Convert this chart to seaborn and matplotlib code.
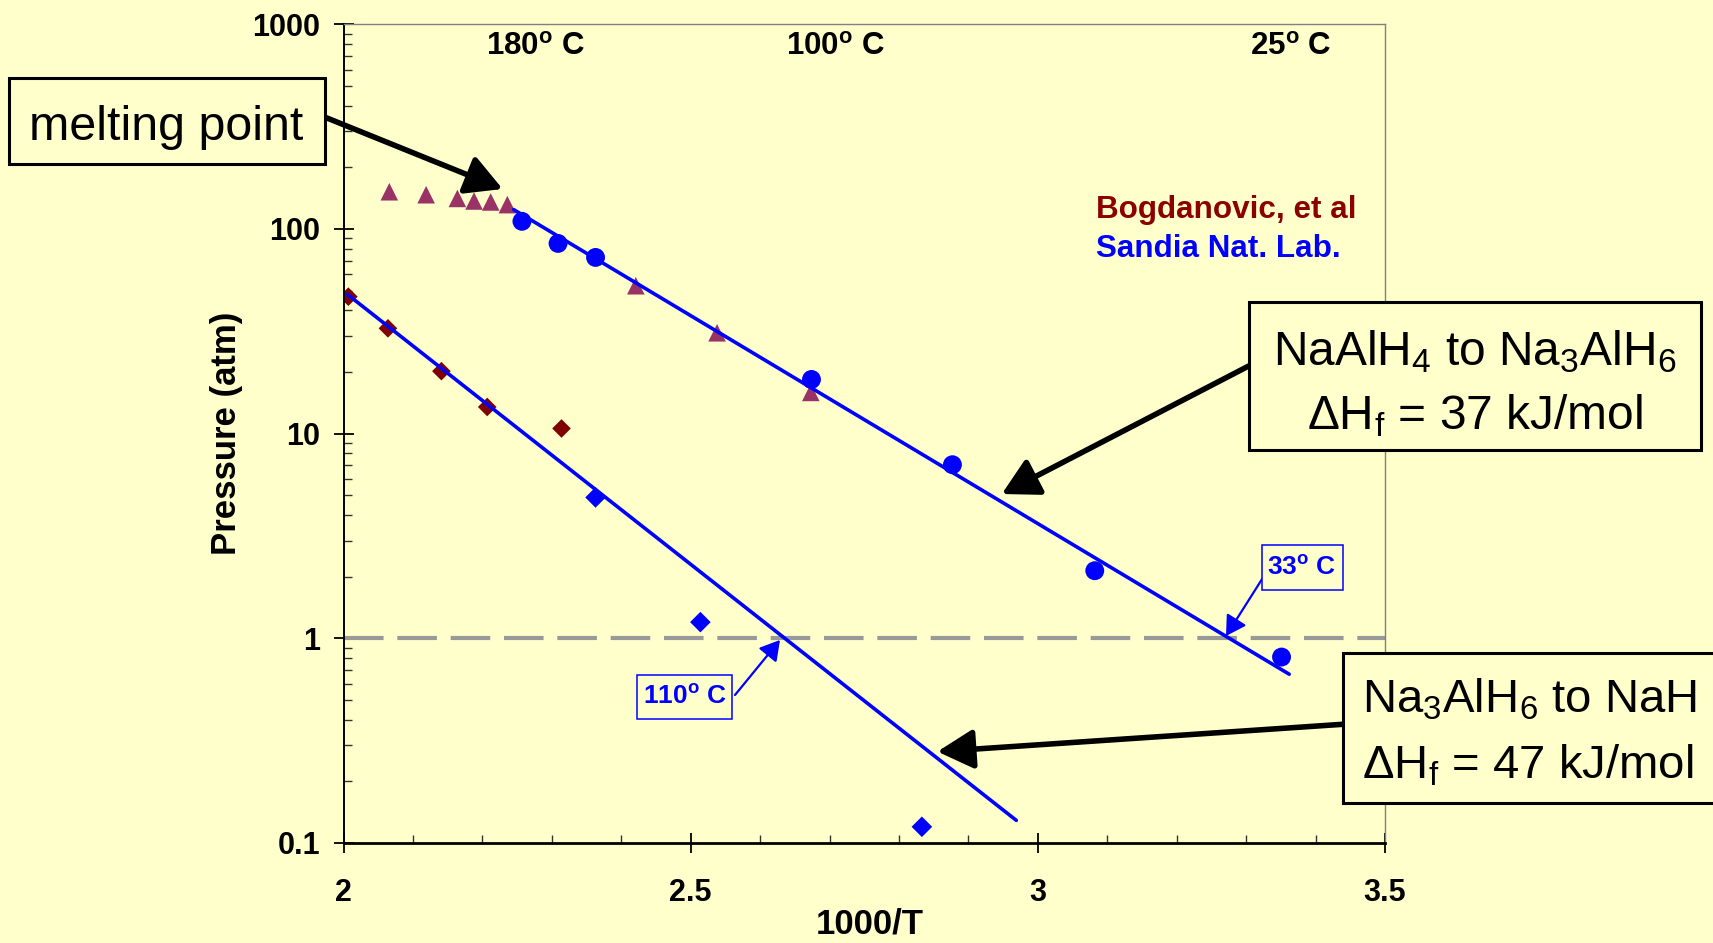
import matplotlib
matplotlib.use("Agg")
import numpy as np
import pandas as pd
import seaborn as sns
import matplotlib.pyplot as plt
from matplotlib.patches import Rectangle
from matplotlib.ticker import FixedLocator, NullFormatter, LogLocator, MultipleLocator

# ---------------- data ----------------
bog_tri_x = [2.066, 2.119, 2.164, 2.188, 2.212, 2.236, 2.421, 2.538, 2.673]
bog_tri_p = [152, 147, 141, 137, 135.5, 131.5, 52.8, 31.1, 15.9]
sandia_circ_x = [2.257, 2.309, 2.363, 2.674, 2.877, 3.082, 3.351]
sandia_circ_p = [109, 85, 72.6, 18.4, 7.05, 2.14, 0.81]
bog_dia_x = [2.007, 2.064, 2.141, 2.207, 2.314]
bog_dia_p = [46.7, 32.7, 20.2, 13.5, 10.6]
sandia_dia_x = [2.363, 2.514, 2.833]
sandia_dia_p = [4.88, 1.2, 0.12]
fit1_x = [2.245, 3.362]
fit1_p = [124.4, 0.668]
fit2_x = [2.006, 2.969]
fit2_p = [47.8, 0.129]

x_ticks = [2, 2.5, 3, 3.5]
x_tick_labels = ["2", "2.5", "3", "3.5"]
y_ticks = [0.1, 1, 10, 100, 1000]
y_tick_labels = ["0.1", "1", "10", "100", "1000"]
temp_labels = ["180$^{\\mathbf{o}}$ C", "100$^{\\mathbf{o}}$ C", "25$^{\\mathbf{o}}$ C"]

# ---------------- style ----------------
BG = "#FFFFCC"
W, H = 1713, 943
sns.set_style("ticks")
plt.rcParams["font.family"] = ["Liberation Sans", "DejaVu Sans"]
plt.rcParams["mathtext.fontset"] = "custom"
plt.rcParams["mathtext.rm"] = "Liberation Sans"
plt.rcParams["mathtext.bf"] = "Liberation Sans:bold"
plt.rcParams["mathtext.it"] = "Liberation Sans:italic"
plt.rcParams["mathtext.default"] = "regular"
for k in ["text.color", "axes.labelcolor", "xtick.color", "ytick.color"]:
    plt.rcParams[k] = "black"

fig = plt.figure(figsize=(W / 100, H / 100), dpi=100, facecolor=BG)
L, R, T, B = 343.5, 1385, 24.3, 843
ax = fig.add_axes([L / W, 1 - B / H, (R - L) / W, (B - T) / H])
ax.set_facecolor(BG)

def fx(px):
    return px / W

def fy(py):
    return 1 - py / H

# reference line at 1 atm
ax.axhline(1, color="#999999", lw=3.0, dashes=(9.5, 3.3), zorder=1)

# markers
sns.scatterplot(x=bog_tri_x, y=bog_tri_p, marker="^", s=160, color="#993366",
                edgecolor="none", ax=ax, zorder=3)
sns.scatterplot(x=sandia_circ_x, y=sandia_circ_p, marker="o", s=185, color="#0000FF",
                edgecolor="none", ax=ax, zorder=3)
sns.scatterplot(x=bog_dia_x, y=bog_dia_p, marker="D", s=90, color="#800000",
                edgecolor="none", ax=ax, zorder=2)
sns.scatterplot(x=sandia_dia_x, y=sandia_dia_p, marker="D", s=110, color="#0000FF",
                edgecolor="none", ax=ax, zorder=2)

# fit lines
fits = pd.DataFrame({"x": fit1_x + fit2_x, "p": fit1_p + fit2_p,
                     "fit": ["a", "a", "b", "b"]})
sns.lineplot(data=fits, x="x", y="p", units="fit", estimator=None, color="#0000FF",
             lw=2.6, ax=ax, zorder=4, legend=False)

ax.set_yscale("log")
ax.set_xlim(2, 3.5)
ax.set_ylim(0.1, 1000)

# ticks
ax.xaxis.set_major_locator(FixedLocator(x_ticks))
ax.set_xticklabels(x_tick_labels, fontsize=22, fontweight="bold")
ax.xaxis.set_minor_locator(MultipleLocator(0.1))
ax.yaxis.set_major_locator(FixedLocator(y_ticks))
ax.set_yticklabels(y_tick_labels, fontsize=22, fontweight="bold")
ax.yaxis.set_minor_locator(LogLocator(base=10, subs=np.arange(2, 10), numticks=20))
ax.yaxis.set_minor_formatter(NullFormatter())
ax.tick_params(axis="both", which="major", direction="inout", length=14, width=1.3,
               color="black")
ax.tick_params(axis="x", which="major", pad=18)
ax.tick_params(axis="y", which="major", pad=10)
ax.tick_params(axis="both", which="minor", direction="in", length=6, width=1.0,
               color="#333333")

for side in ["top", "right"]:
    ax.spines[side].set_visible(True)
    ax.spines[side].set_color("#808080")
    ax.spines[side].set_linewidth(1.0)
ax.spines["left"].set_color("black")
ax.spines["left"].set_linewidth(1.4)
ax.spines["bottom"].set_color("black")
ax.spines["bottom"].set_linewidth(2.0)

ax.set_xlabel("1000/T", fontsize=25, fontweight="bold")
ax.xaxis.set_label_coords(0.505, -0.1185)
ax.xaxis.label.set_va("bottom")
ax.set_ylabel("Pressure (atm)", fontsize=25, fontweight="bold")
ax.yaxis.set_label_coords(-0.112, 0.5)
ax.yaxis.label.set_va("center")

# temperature labels on top
for xa, t in zip([0.184, 0.4727, 0.910], temp_labels):
    ax.text(xa, 0.972, t, transform=ax.transAxes, ha="center", va="center",
            fontsize=22.5, fontweight="bold")

# legend-like text
fig.text(fx(1095.8), fy(209.8), "Bogdanovic, et al", color="#8B0000",
         fontsize=22.6, fontweight="bold", ha="left", va="center")
fig.text(fx(1095.8), fy(249), "Sandia Nat. Lab.", color="#0000FF",
         fontsize=22.6, fontweight="bold", ha="left", va="center")

# ---------- boxes ----------
def box(x0, y0, x1, y1, ec="black", lw=2.2):
    r = Rectangle((fx(x0), fy(y1)), fx(x1) - fx(x0), fy(y0) - fy(y1),
                  transform=fig.transFigure, facecolor=BG, edgecolor=ec,
                  lw=lw, zorder=5, clip_on=False)
    fig.add_artist(r)

def arrow(p0, p1, color="black", lw=4, hl=0.55, hw=0.3, ms=40):
    ax.annotate("", xy=(fx(p1[0]), fy(p1[1])), xycoords="figure fraction",
                xytext=(fx(p0[0]), fy(p0[1])), textcoords="figure fraction",
                arrowprops=dict(arrowstyle=f"-|>,head_length={hl},head_width={hw}",
                                lw=lw, color=color, mutation_scale=ms,
                                shrinkA=0, shrinkB=0), zorder=6)

# melting point
box(8.7, 77.6, 324.5, 163.9)
fig.text(fx(166.6), fy(127), "melting point", fontsize=34.8, ha="center", va="center",
         zorder=6)
arrow((324.5, 117), (502.6, 189))

# NaAlH4 -> Na3AlH6
box(1248.7, 301.5, 1701, 450)
fig.text(fx(1474.9), fy(352), "NaAlH$_4$ to Na$_3$AlH$_6$", fontsize=34.5,
         ha="center", va="center", zorder=6)
fig.text(fx(1474.9), fy(416), "ΔH$_f$ = 37 kJ/mol", fontsize=34.5,
         ha="center", va="center", zorder=6)
arrow((1248.7, 366), (1001.8, 494))

# Na3AlH6 -> NaH
box(1342.7, 653.3, 1740, 803)
fig.text(fx(1362), fy(700), "Na$_3$AlH$_6$ to NaH", fontsize=34,
         ha="left", va="center", zorder=6)
fig.text(fx(1362), fy(766), "ΔH$_f$ = 47 kJ/mol", fontsize=34,
         ha="left", va="center", zorder=6)
arrow((1342.7, 724.3), (937.4, 751.6))

# small blue temperature callouts
box(1261.8, 545, 1342.7, 590, ec="#0000FF", lw=1.1)
fig.text(fx(1302), fy(567.5), "33$^{\\mathbf{o}}$ C", color="#0000FF", fontsize=19,
         fontweight="bold", ha="center", va="center", zorder=6)
arrow((1264, 576), (1226, 636), color="#0000FF", lw=1.6, hl=0.6, hw=0.35, ms=20)

box(637, 675, 732, 719, ec="#0000FF", lw=1.1)
fig.text(fx(684.5), fy(697), "110$^{\\mathbf{o}}$ C", color="#0000FF", fontsize=19,
         fontweight="bold", ha="center", va="center", zorder=6)
arrow((735, 695), (780, 640), color="#0000FF", lw=1.6, hl=0.6, hw=0.35, ms=20)

fig.savefig("out.png", dpi=100, facecolor=BG)
